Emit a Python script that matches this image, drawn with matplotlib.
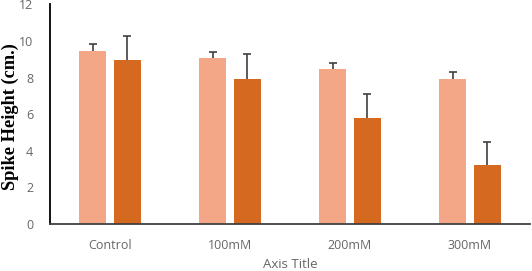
import numpy as np
import matplotlib
matplotlib.use('Agg')
from matplotlib import pyplot as plt

categories = ['Control', '100mM', '200mM', '300mM']
light_vals = [9.47, 9.09, 8.45, 7.94]
light_err = [0.35, 0.33, 0.35, 0.37]
dark_vals = [8.94, 7.94, 5.79, 3.21]
dark_err = [1.35, 1.35, 1.30, 1.27]

fig = plt.figure(figsize=(5.32, 2.71), dpi=100)
ax = fig.add_axes([50 / 532, 47 / 271, 480 / 532, 219.6 / 271])

x = np.arange(len(categories))
w = 0.22
ekw = dict(ecolor='#404040', elinewidth=1.2, capthick=1.2)
b1 = ax.bar(x - 0.145, light_vals, w, yerr=[[0] * 4, light_err], capsize=3,
            color='#F4A786', error_kw=ekw)
b2 = ax.bar(x + 0.145, dark_vals, w, yerr=[[0] * 4, dark_err], capsize=3,
            color='#D5691F', error_kw=ekw)
# hide the lower caps, only the upper whisker is shown
for b in (b1, b2):
    b.errorbar.lines[1][0].set_visible(False)

ax.set_xlim(-0.5, 3.5)
ax.set_ylim(0, 12)
ax.set_xticks(x)
ax.set_xticklabels(categories)
ax.set_yticks(range(0, 13, 2))

for s in ['top', 'right']:
    ax.spines[s].set_visible(False)
ax.spines['left'].set_color('black')
ax.spines['left'].set_linewidth(1.3)
ax.spines['bottom'].set_color('#404040')
ax.spines['bottom'].set_linewidth(1.3)

ax.tick_params(axis='x', length=0, pad=11, labelsize=9, labelcolor='#666666')
ax.tick_params(axis='y', length=0, pad=12, labelsize=9, labelcolor='#666666')
for lab in ax.get_xticklabels() + ax.get_yticklabels():
    lab.set_family('Open Sans')

ax.set_xlabel('Axis Title', fontsize=9.5, color='#666666', family='Open Sans', labelpad=4)
ax.set_ylabel('Spike Height (cm.)', fontsize=13.2, fontweight='bold',
              family='Liberation Serif', color='black')
ax.yaxis.set_label_coords(-31 / 480, 0.49)

fig.savefig('out.png', dpi=100)
